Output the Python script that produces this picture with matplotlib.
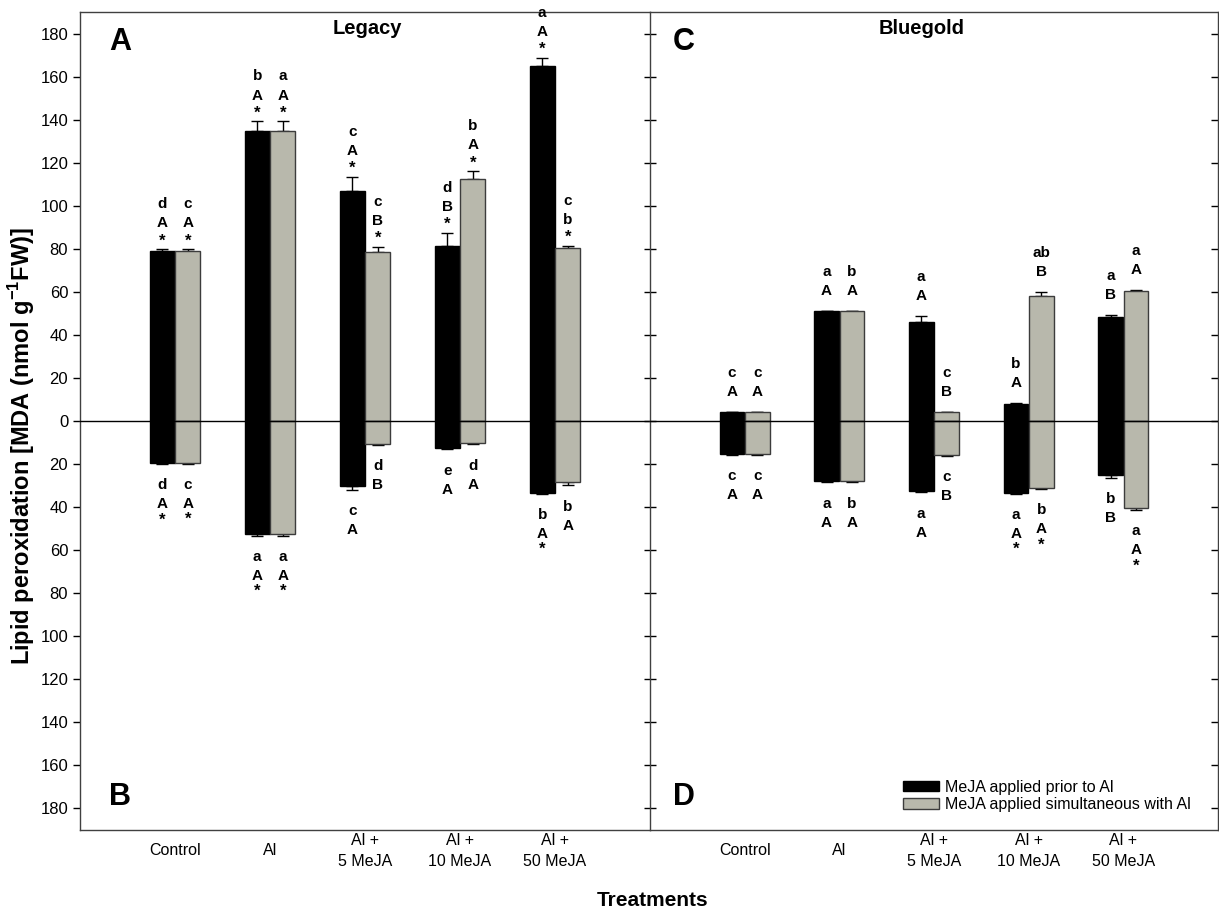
import matplotlib.pyplot as plt
import numpy as np
from matplotlib.patches import Patch

plt.rcParams['font.family'] = ['Liberation Sans', 'DejaVu Sans']

# treatments on the x axis
treatments = ['Control', 'Al', 'Al +\n5 MeJA', 'Al +\n10 MeJA', 'Al +\n50 MeJA']

# Legacy - upper part (A)
legacy_top_prior = [79, 134.5, 107, 81.5, 165]
legacy_top_prior_err = [1, 4.8, 6.5, 6, 3.8]
legacy_top_simul = [79, 134.5, 78.5, 112.5, 80.5]
legacy_top_simul_err = [1, 4.8, 2.5, 3.7, 1]
# Legacy - lower part (B)
legacy_bot_prior = [19.5, 52.5, 30.4, 12.4, 33.5]
legacy_bot_prior_err = [0.5, 0.8, 1.5, 0.8, 0.3]
legacy_bot_simul = [19.5, 52.5, 10.7, 10.3, 28.4]
legacy_bot_simul_err = [0.3, 0.8, 0.5, 0.5, 1.5]

# Bluegold - upper part (C)
blue_top_prior = [4, 50.9, 46.1, 8, 48.3]
blue_top_prior_err = [0.3, 0.3, 2.5, 0.3, 0.8]
blue_top_simul = [4, 50.9, 4, 58, 60.4]
blue_top_simul_err = [0.3, 0.3, 0.3, 1.8, 0.3]
# Bluegold - lower part (D)
blue_bot_prior = [15.2, 27.7, 32.4, 33.3, 25.3]
blue_bot_prior_err = [0.5, 0.8, 0.8, 0.5, 1]
blue_bot_simul = [15.2, 27.7, 15.8, 31.3, 40.3]
blue_bot_simul_err = [0.5, 0.8, 0.3, 0.3, 1]

# significance letters: "lower,upper,star"
legacy_top_prior_lab = ['d,A,*', 'b,A,*', 'c,A,*', 'd,B,*', 'a,A,*']
legacy_top_simul_lab = ['c,A,*', 'a,A,*', 'c,B,*', 'b,A,*', 'c,b,*']
legacy_bot_prior_lab = ['d,A,*', 'a,A,*', 'c,A,', 'e,A,', 'b,A,*']
legacy_bot_simul_lab = ['c,A,*', 'a,A,*', 'd,B,', 'd,A,', 'b,A,']
blue_top_prior_lab = ['c,A,', 'a,A,', 'a,A,', 'b,A,', 'a,B,']
blue_top_simul_lab = ['c,A,', 'b,A,', 'c,B,', 'ab,B,', 'a,A,']
blue_bot_prior_lab = ['c,A,', 'a,A,', 'a,A,', 'a,A,*', 'b,B,']
blue_bot_simul_lab = ['c,A,', 'b,A,', 'c,B,', 'b,A,*', 'a,A,*']

black = '#000000'
gray = '#b8b8ac'

fig = plt.figure(figsize=(12.19, 9.11), dpi=100)
axL = fig.add_axes([80/1219, 1-830/911, 570/1219, 818/911])
axR = fig.add_axes([650/1219, 1-830/911, 568/1219, 818/911])

x = np.arange(1, 6)
w = 0.26
off = 0.135


def put(ax, s, xi, tip, dy, size=11):
    ax.annotate(s, (xi, tip), xytext=(0, dy), textcoords='offset points',
                ha='center', va='baseline', fontsize=size, fontweight='bold')


def label_stack(ax, xs, tips, labs, up):
    for xi, tip, lab in zip(xs, tips, labs):
        low, cap, star = lab.split(',')
        if up:
            if star:
                put(ax, '*', xi, tip, 2.5, 12)
                put(ax, cap, xi, tip, 15.5)
                put(ax, low, xi, tip, 29.3)
            else:
                put(ax, cap, xi, tip, 11.5)
                put(ax, low, xi, tip, 25.2)
        else:
            put(ax, low, xi, tip, -18.2)
            put(ax, cap, xi, tip, -31.9)
            if star:
                put(ax, '*', xi, tip, -43.5, 12)


def draw_panel(ax, tp, tpe, ts, tse, bp, bpe, bs, bse, labs):
    tp, tpe, ts, tse = map(np.array, (tp, tpe, ts, tse))
    bp, bpe, bs, bse = map(np.array, (bp, bpe, bs, bse))
    z = np.zeros(5)
    for xs, top, tope, bot, bote, col, ec in [(x - off, tp, tpe, bp, bpe, black, '#000000'),
                                              (x + off, ts, tse, bs, bse, gray, '#3c3c3c')]:
        ax.errorbar(xs, top, yerr=[z, tope], fmt='none', ecolor='black', elinewidth=1,
                    capsize=4.3, capthick=1, zorder=1)
        ax.errorbar(xs, -bot, yerr=[bote, z], fmt='none', ecolor='black', elinewidth=1,
                    capsize=4.3, capthick=1, zorder=1)
        ax.bar(xs, top, width=w, color=col, edgecolor=ec, linewidth=1, zorder=2)
        ax.bar(xs, -bot, width=w, color=col, edgecolor=ec, linewidth=1, zorder=2)
    label_stack(ax, x - off, tp + tpe, labs[0], True)
    label_stack(ax, x + off, ts + tse, labs[1], True)
    label_stack(ax, x - off, -(bp + bpe), labs[2], False)
    label_stack(ax, x + off, -(bs + bse), labs[3], False)
    ax.axhline(0, color='black', linewidth=1, zorder=3)
    ax.set_xlim(0, 6)
    ax.set_ylim(-190, 190)
    ax.set_xticks(x)
    ax.set_xticklabels(treatments, fontsize=11.5, linespacing=1.45)
    for t in ax.get_xticklabels():
        t.set_va('center')
    ax.tick_params(axis='x', length=0, pad=15)
    ax.set_yticks(np.arange(-180, 181, 20))
    for s in ax.spines.values():
        s.set_color('#404040')
        s.set_linewidth(1)


draw_panel(axL, legacy_top_prior, legacy_top_prior_err, legacy_top_simul, legacy_top_simul_err,
           legacy_bot_prior, legacy_bot_prior_err, legacy_bot_simul, legacy_bot_simul_err,
           [legacy_top_prior_lab, legacy_top_simul_lab, legacy_bot_prior_lab, legacy_bot_simul_lab])
draw_panel(axR, blue_top_prior, blue_top_prior_err, blue_top_simul, blue_top_simul_err,
           blue_bot_prior, blue_bot_prior_err, blue_bot_simul, blue_bot_simul_err,
           [blue_top_prior_lab, blue_top_simul_lab, blue_bot_prior_lab, blue_bot_simul_lab])

axL.set_yticklabels([str(abs(v)) for v in np.arange(-180, 181, 20)], fontsize=12)
axL.tick_params(axis='y', direction='out', length=5, width=1)
axL.spines['right'].set_visible(False)
axR.tick_params(axis='y', left=True, right=True, labelleft=False, direction='in', length=5, width=1)
# ticks crossing the divider
for tl in axR.yaxis.get_major_ticks():
    tl.tick1line.set_marker('_')
    tl.tick1line.set_markersize(8)

# panel titles and letters
axL.text(0.505, 0.98, 'Legacy', transform=axL.transAxes, ha='center', va='center',
         fontsize=14.5, fontweight='bold')
axR.text(0.479, 0.98, 'Bluegold', transform=axR.transAxes, ha='center', va='center',
         fontsize=14.5, fontweight='bold')
axL.text(0.07, 0.963, 'A', transform=axL.transAxes, ha='center', va='center', fontsize=22, fontweight='bold')
axL.text(0.07, 0.04, 'B', transform=axL.transAxes, ha='center', va='center', fontsize=22, fontweight='bold')
axR.text(0.06, 0.963, 'C', transform=axR.transAxes, ha='center', va='center', fontsize=22, fontweight='bold')
axR.text(0.06, 0.04, 'D', transform=axR.transAxes, ha='center', va='center', fontsize=22, fontweight='bold')

handles = [Patch(facecolor=black, edgecolor='black', label='MeJA applied prior to Al'),
           Patch(facecolor=gray, edgecolor='#3c3c3c', label='MeJA applied simultaneous with Al')]
axR.legend(handles=handles, loc='lower right', bbox_to_anchor=(0.952, 0.022), frameon=False,
           fontsize=11.5, handlelength=2.25, handleheight=0.65, handletextpad=0.35,
           labelspacing=0.15, borderaxespad=0, borderpad=0)

fig.text(22/1219, 0.51, 'Lipid peroxidation [MDA (nmol g$^{\\mathregular{-1}}$FW)]', rotation=90,
         ha='center', va='center', fontsize=17, fontweight='bold')
fig.text(653/1219, 1-900/911, 'Treatments', ha='center', va='center', fontsize=15, fontweight='bold')

fig.savefig('out.png', dpi=100)
